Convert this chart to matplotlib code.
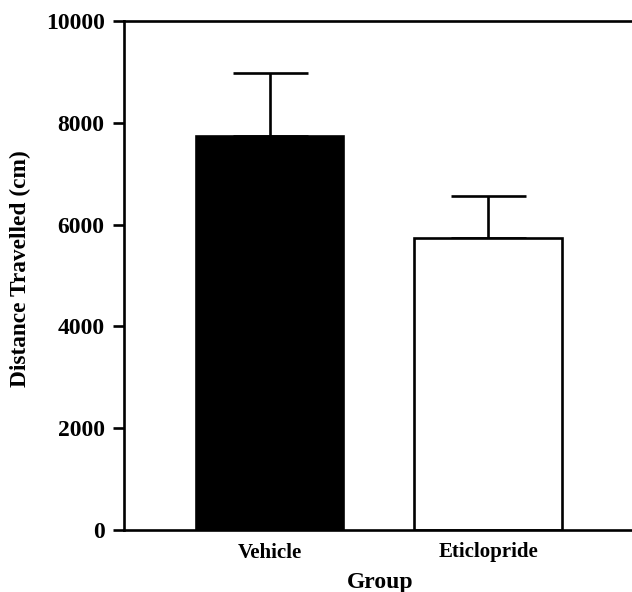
import matplotlib
matplotlib.use('Agg')
import matplotlib.pyplot as plt

# Data
groups = ['Vehicle', 'Eticlopride']
means = [7740, 5730]
sem = [1230, 830]
colors = ['black', 'white']

plt.rcParams['font.family'] = ['Liberation Serif', 'DejaVu Serif']
plt.rcParams['font.weight'] = 'bold'

fig = plt.figure(figsize=(6.32, 5.92), dpi=100)
# right edge of the axes falls just outside the picture, as in the reference
ax = fig.add_axes([124 / 632, 62 / 592, 517 / 632, 509 / 592])

lw = 1.9
x = range(len(groups))
ax.bar(x, means, width=0.677, color=colors, edgecolor='black', linewidth=lw, zorder=2)
ax.errorbar(x, means, yerr=[[0, 0], sem], fmt='none', ecolor='black',
            elinewidth=lw, capsize=27, capthick=lw, zorder=1)

ax.set_xlim(-0.666, 1.7)
ax.set_ylim(0, 10000)
ax.set_yticks([0, 2000, 4000, 6000, 8000, 10000])
ax.set_xticks(list(x))
ax.set_xticklabels(groups, fontsize=15, fontweight='bold')
ax.tick_params(axis='x', length=0, pad=9)
ax.tick_params(axis='y', direction='out', length=8, width=lw, pad=6, labelsize=17)
for lab in ax.get_yticklabels():
    lab.set_fontweight('bold')

for s in ax.spines.values():
    s.set_linewidth(lw)

ax.set_ylabel('Distance Travelled (cm)', fontsize=16.8, fontweight='bold')
ax.yaxis.set_label_coords(-(124 - 31) / 517, (530 - 269) / 509)
ax.set_xlabel('Group', fontsize=17, fontweight='bold')
ax.xaxis.set_label_coords((380 - 124) / 517, -(572 - 530) / 509)

fig.savefig('out.png', dpi=100)
